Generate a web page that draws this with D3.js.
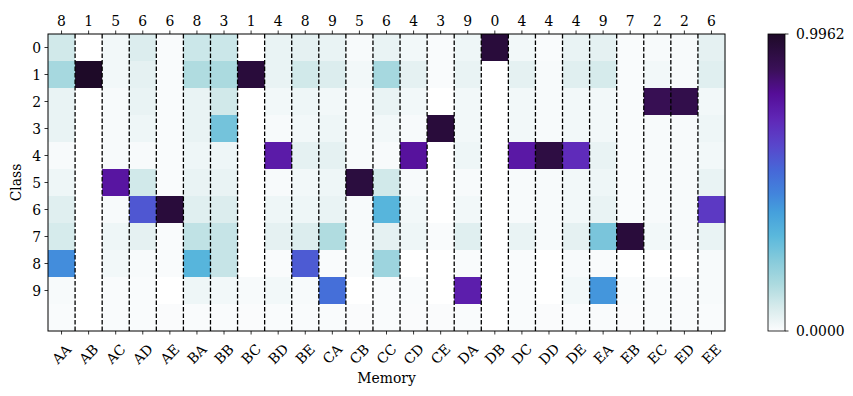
<!DOCTYPE html>
<html>
<head>
<meta charset="utf-8">
<script src="https://cdn.jsdelivr.net/npm/d3@7"></script>
<style>
  body { margin: 0; background: #fff; }
  svg { display: block; }
  text { font-family: "DejaVu Serif", serif; fill: #000; }
</style>
</head>
<body>
<svg id="chart" width="853" height="396"></svg>
<script>
// columns (memory slots) and the argmax class shown on top
const memory = ["AA","AB","AC","AD","AE","BA","BB","BC","BD","BE","CA","CB","CC","CD","CE","DA","DB","DC","DD","DE","EA","EB","EC","ED","EE"]
const topLabels = ["8","1","5","6","6","8","3","1","4","8","9","5","6","4","3","9","0","4","4","4","9","7","2","2","6"]
const classTicks = ["0","1","2","3","4","5","6","7","8","9"]

// one row per class (row 10 is the trailing unlabeled row)
const class0 = [0.09,0,0.02,0.07,0.005,0.10,0.10,0,0.04,0.05,0.04,0.01,0.04,0.02,0.005,0.03,0.95,0.02,0.005,0.04,0.05,0.005,0.01,0.01,0.05]
const class1 = [0.17,0.9962,0.02,0.05,0.005,0.15,0.16,0.95,0.04,0.09,0.07,0.02,0.17,0.05,0.005,0.04,0,0.05,0.01,0.06,0.08,0.005,0.02,0.01,0.06]
const class2 = [0.04,0,0.01,0.04,0.005,0.04,0.09,0,0.02,0.03,0.02,0.01,0.04,0.02,0,0.02,0,0.02,0.01,0.02,0.02,0.005,0.89,0.91,0.02]
const class3 = [0.04,0,0.01,0.03,0.005,0.04,0.27,0,0.01,0.02,0.03,0.01,0.02,0.01,0.95,0.02,0,0.02,0.01,0.02,0.02,0.005,0.01,0.01,0.03]
const class4 = [0.01,0,0.01,0.01,0.005,0.03,0.03,0,0.75,0.05,0.05,0.01,0.01,0.78,0,0.03,0,0.76,0.93,0.70,0.04,0.005,0.01,0.01,0.02]
const class5 = [0.03,0,0.77,0.09,0.005,0.04,0.04,0,0.01,0.02,0.03,0.94,0.09,0.01,0,0.01,0,0.01,0.01,0.02,0.03,0.005,0.01,0.01,0.04]
const class6 = [0.06,0,0.01,0.58,0.95,0.06,0.07,0,0.03,0.03,0.04,0.01,0.33,0.02,0,0.02,0,0.01,0.01,0.02,0.04,0.005,0.01,0.01,0.66]
const class7 = [0.08,0,0.03,0.05,0.005,0.12,0.11,0,0.05,0.07,0.15,0.01,0.05,0.03,0.005,0.06,0,0.04,0.01,0.05,0.26,0.95,0.02,0.01,0.04]
const class8 = [0.44,0,0.02,0.01,0.005,0.33,0.11,0,0.005,0.57,0.005,0.005,0.19,0,0,0.005,0,0.005,0,0.01,0.005,0,0,0,0.01]
const class9 = [0.01,0,0.005,0.005,0,0.03,0.02,0.01,0.02,0.01,0.52,0,0.005,0.005,0,0.74,0,0.005,0,0.02,0.42,0.005,0.005,0.005,0.01]
const class10 = [0.005,0,0.005,0.005,0.003,0.005,0.005,0.003,0.005,0.005,0.005,0.003,0.005,0.003,0.003,0.005,0,0.005,0.003,0.005,0.005,0.003,0.005,0.005,0.005]

const rows = [class0, class1, class2, class3, class4, class5, class6, class7, class8, class9, class10]
const vmin = 0, vmax = 0.9962

// colormap stops sampled off the colorbar
const cmapStops = ["#fbfcfd","#dcedee","#b0dce0","#85cadb","#5ab8dc","#45a0dc","#4285dc","#4668d8","#5848cc","#6028b8","#550d97","#3a1058","#1e0a28"]
const cmapPos = [0,0.07,0.15,0.24,0.32,0.40,0.46,0.54,0.62,0.71,0.80,0.88,1]

const color = d3.scaleLinear()
  .domain(cmapPos.map(p => vmin + p * (vmax - vmin)))
  .range(cmapStops)
  .interpolate(d3.interpolateRgb)
  .clamp(true)

const margin = { left: 48, right: 725, top: 34, bottom: 331 }
const svg = d3.select("#chart")

const x = d3.scaleBand().domain(memory).range([margin.left, margin.right])
const y = d3.scaleBand().domain(d3.range(rows.length)).range([margin.top, margin.bottom])

let cells = []
rows.forEach((r, i) => r.forEach((v, j) => cells.push({ row: i, col: memory[j], v: v })))

svg.append("g")
  .selectAll("rect")
  .data(cells)
  .enter()
  .append("rect")
  .attr("x", d => x(d.col))
  .attr("y", d => y(d.row))
  .attr("width", x.bandwidth() + 0.5)
  .attr("height", y.bandwidth() + 0.5)
  .attr("fill", d => d.v === 0 ? "#ffffff" : color(d.v))

// dashed separators between memory columns
svg.append("g")
  .selectAll("line")
  .data(memory.slice(1))
  .enter()
  .append("line")
  .attr("x1", d => x(d)).attr("x2", d => x(d))
  .attr("y1", margin.top).attr("y2", margin.bottom)
  .attr("stroke", "#000")
  .attr("stroke-width", 1.3)
  .attr("stroke-dasharray", "4.6,1.9")

// frame
svg.append("rect")
  .attr("x", margin.left).attr("y", margin.top)
  .attr("width", margin.right - margin.left)
  .attr("height", margin.bottom - margin.top)
  .attr("fill", "none").attr("stroke", "#000").attr("stroke-width", 1)

const fs = "13.9px"

// bottom axis
const bottomAxis = svg.append("g")
bottomAxis.selectAll("line")
  .data(memory).enter().append("line")
  .attr("x1", d => x(d) + x.bandwidth() / 2).attr("x2", d => x(d) + x.bandwidth() / 2)
  .attr("y1", margin.bottom).attr("y2", margin.bottom + 3.5)
  .attr("stroke", "#000").attr("stroke-width", 0.8)
bottomAxis.selectAll("text")
  .data(memory).enter().append("text")
  .attr("transform", d => `translate(${x(d) + x.bandwidth() / 2},${margin.bottom + 23}) rotate(-45)`)
  .attr("text-anchor", "middle")
  .attr("dominant-baseline", "central")
  .style("font-size", fs)
  .text(d => d)

// top axis
const topAxis = svg.append("g")
topAxis.selectAll("line")
  .data(memory).enter().append("line")
  .attr("x1", d => x(d) + x.bandwidth() / 2).attr("x2", d => x(d) + x.bandwidth() / 2)
  .attr("y1", margin.top).attr("y2", margin.top - 3.5)
  .attr("stroke", "#000").attr("stroke-width", 0.8)
topAxis.selectAll("text")
  .data(topLabels).enter().append("text")
  .attr("x", (d, i) => x(memory[i]) + x.bandwidth() / 2)
  .attr("y", margin.top - 8)
  .attr("text-anchor", "middle")
  .style("font-size", fs)
  .text(d => d)

// left axis
const leftAxis = svg.append("g")
leftAxis.selectAll("line")
  .data(classTicks).enter().append("line")
  .attr("x1", margin.left).attr("x2", margin.left - 3.5)
  .attr("y1", (d, i) => y(i) + y.bandwidth() / 2).attr("y2", (d, i) => y(i) + y.bandwidth() / 2)
  .attr("stroke", "#000").attr("stroke-width", 0.8)
leftAxis.selectAll("text")
  .data(classTicks).enter().append("text")
  .attr("x", margin.left - 7)
  .attr("y", (d, i) => y(i) + y.bandwidth() / 2)
  .attr("text-anchor", "end")
  .attr("dominant-baseline", "central")
  .style("font-size", fs)
  .text(d => d)

svg.append("text")
  .attr("x", (margin.left + margin.right) / 2)
  .attr("y", 383)
  .attr("text-anchor", "middle")
  .style("font-size", fs)
  .text("Memory")

svg.append("text")
  .attr("transform", `translate(21,${(margin.top + margin.bottom) / 2}) rotate(-90)`)
  .attr("text-anchor", "middle")
  .style("font-size", fs)
  .text("Class")

// colorbar
const cb = { x: 768, w: 17 }
const cbScale = d3.scaleLinear().domain([vmin, vmax]).range([margin.bottom, margin.top])
const defs = svg.append("defs")
const grad = defs.append("linearGradient")
  .attr("id", "cbgrad").attr("x1", 0).attr("x2", 0).attr("y1", 1).attr("y2", 0)
d3.range(0, 1.0001, 0.02).forEach(t => {
  grad.append("stop").attr("offset", t).attr("stop-color", color(vmin + t * (vmax - vmin)))
})
svg.append("rect")
  .attr("x", cb.x).attr("y", margin.top)
  .attr("width", cb.w).attr("height", margin.bottom - margin.top)
  .attr("fill", "url(#cbgrad)")
  .attr("stroke", "#000").attr("stroke-width", 0.8)

const cbTicks = [vmin, vmax]
svg.append("g").selectAll("line")
  .data(cbTicks).enter().append("line")
  .attr("x1", cb.x + cb.w).attr("x2", cb.x + cb.w + 3.5)
  .attr("y1", d => cbScale(d)).attr("y2", d => cbScale(d))
  .attr("stroke", "#000").attr("stroke-width", 0.8)
svg.append("g").selectAll("text")
  .data(cbTicks).enter().append("text")
  .attr("x", cb.x + cb.w + 11)
  .attr("y", d => cbScale(d))
  .attr("dominant-baseline", "central")
  .style("font-size", fs)
  .text(d => d3.format(".4f")(d))
</script>
</body>
</html>
